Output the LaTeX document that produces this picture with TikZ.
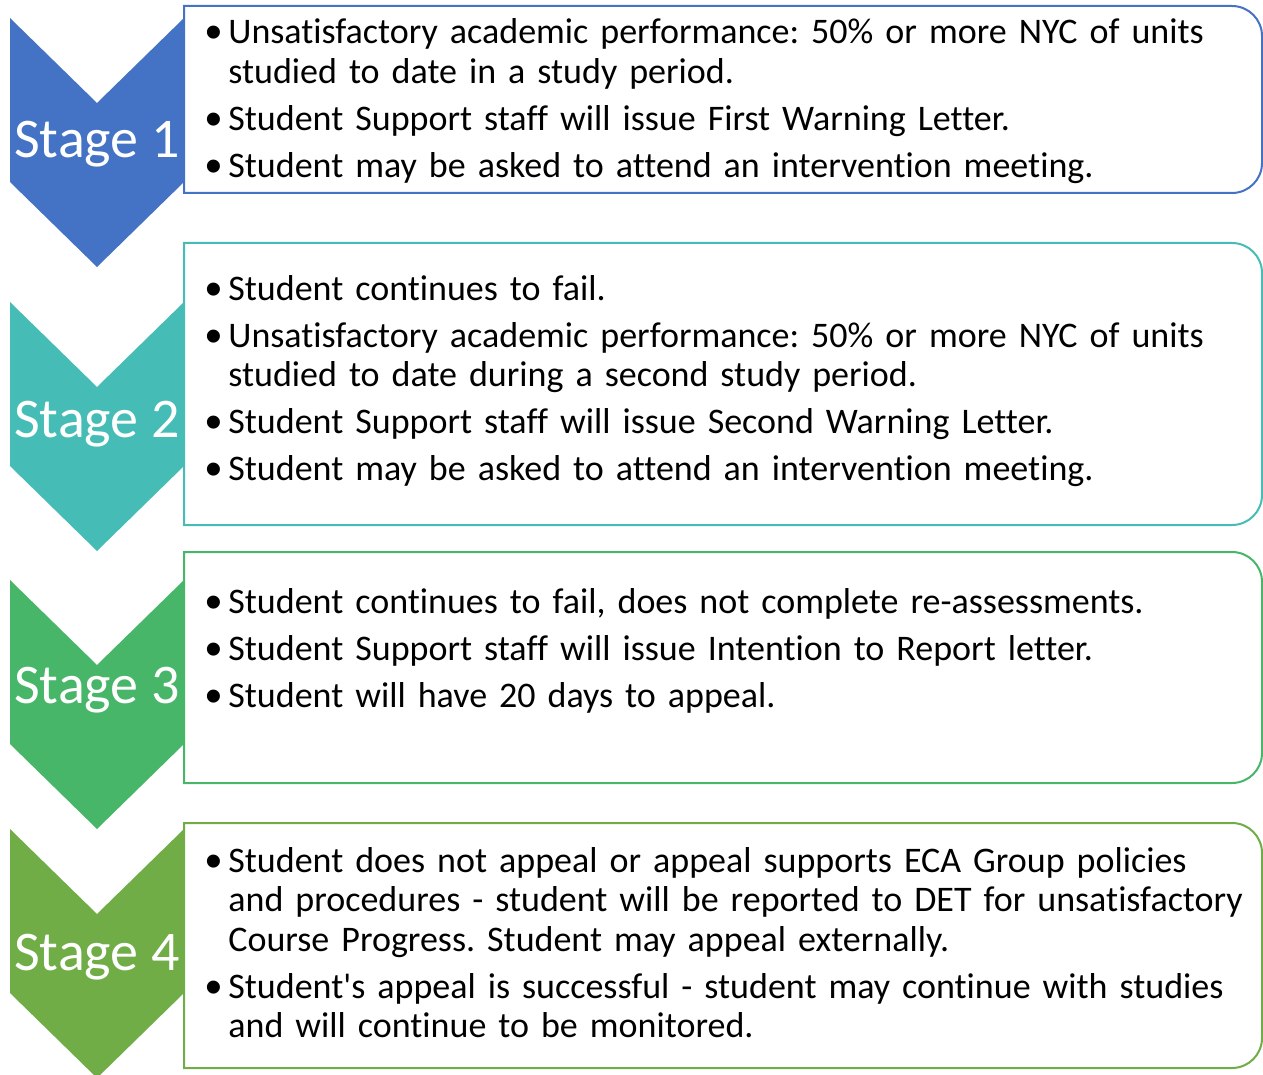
\documentclass[tikz,border=0pt]{standalone}
\usepackage{fontspec}
\setmainfont{Carlito}[Ligatures={NoCommon}]
\newfontfamily\bulfont{Liberation Sans}
\definecolor{stageblue}{HTML}{4472C4}
\definecolor{stageteal}{HTML}{45BDB6}
\definecolor{stagegreen}{HTML}{48B668}
\definecolor{stageolive}{HTML}{70AD47}
% one bullet point with hanging indent
\newcommand{\bul}[1]{\noindent\hangindent=11.5pt\hangafter=1%
  \makebox[11.5pt][l]{\raisebox{-2.5pt}{\fontsize{24}{0}\bulfont\textbullet}}#1\par}
% chevron: top edge, colour
\newcommand{\chev}[2]{\fill[#2] (10,#1) -- (97,#1+85) -- (184,#1) -- (184,#1+164) -- (97,#1+249) -- (10,#1+164) -- cycle;}
% text frame, square left side, round right side: top, bottom, colour
\newcommand{\stagebox}[3]{\draw[boxline,#3] (184,#1) -- (1232,#1) arc[start angle=-90,end angle=0,radius=30]
  -- (1262,#2-30) arc[start angle=0,end angle=90,radius=30] -- (184,#2) -- cycle;}

\begin{document}
\begin{tikzpicture}[x=0.5pt,y=-0.5pt,
  stagelabel/.style={text=white,inner sep=0pt,anchor=base,font=\fontsize{28}{30}\selectfont},
  steptext/.style={anchor=base west,inner sep=0pt,text width=530pt,
    font=\fontsize{18}{19.75}\selectfont,
    execute at begin node={\setlength{\parskip}{3.75pt}\frenchspacing}},
  boxline/.style={line width=1pt}]
  \clip (0,0) rectangle (1263,1075);

  % stage 1
  \chev{18}{stageblue}
  \stagebox{6}{193}{stageblue}
  \node[stagelabel] (s1) at (97,158) {Stage 1};
  \node[steptext] (t1) at (205,44) {%
    \bul{Unsatisfactory academic performance: 50\% or more NYC of units\newline studied to date in a study period.}
    \bul{Student Support staff will issue First Warning Letter.}
    \bul{Student may be asked to attend an intervention meeting.}};

  % stage 2
  \chev{302}{stageteal}
  \stagebox{243}{525}{stageteal}
  \node[stagelabel] (s2) at (97,437) {Stage 2};
  \node[steptext] (t2) at (205,300) {%
    \bul{Student continues to fail.}
    \bul{Unsatisfactory academic performance: 50\% or more NYC of units\newline studied to date during a second study period.}
    \bul{Student Support staff will issue Second Warning Letter.}
    \bul{Student may be asked to attend an intervention meeting.}};

  % stage 3
  \chev{580}{stagegreen}
  \stagebox{552}{783}{stagegreen}
  \node[stagelabel] (s3) at (97,703) {Stage 3};
  \node[steptext] (t3) at (205,613) {%
    \bul{Student continues to fail, does not complete re-assessments.}
    \bul{Student Support staff will issue Intention to Report letter.}
    \bul{Student will have 20 days to appeal.}};

  % stage 4
  \chev{829}{stageolive}
  \stagebox{823}{1068}{stageolive}
  \node[stagelabel] (s4) at (97,970) {Stage 4};
  \node[steptext] (t4) at (205,872) {%
    \bul{Student does not appeal or appeal supports ECA Group policies\newline and procedures - student will be reported to DET for unsatisfactory\newline Course Progress. Student may appeal externally.}
    \bul{Student\textquotesingle s appeal is successful - student may continue with studies\newline and will continue to be monitored.}};
\end{tikzpicture}
\end{document}
